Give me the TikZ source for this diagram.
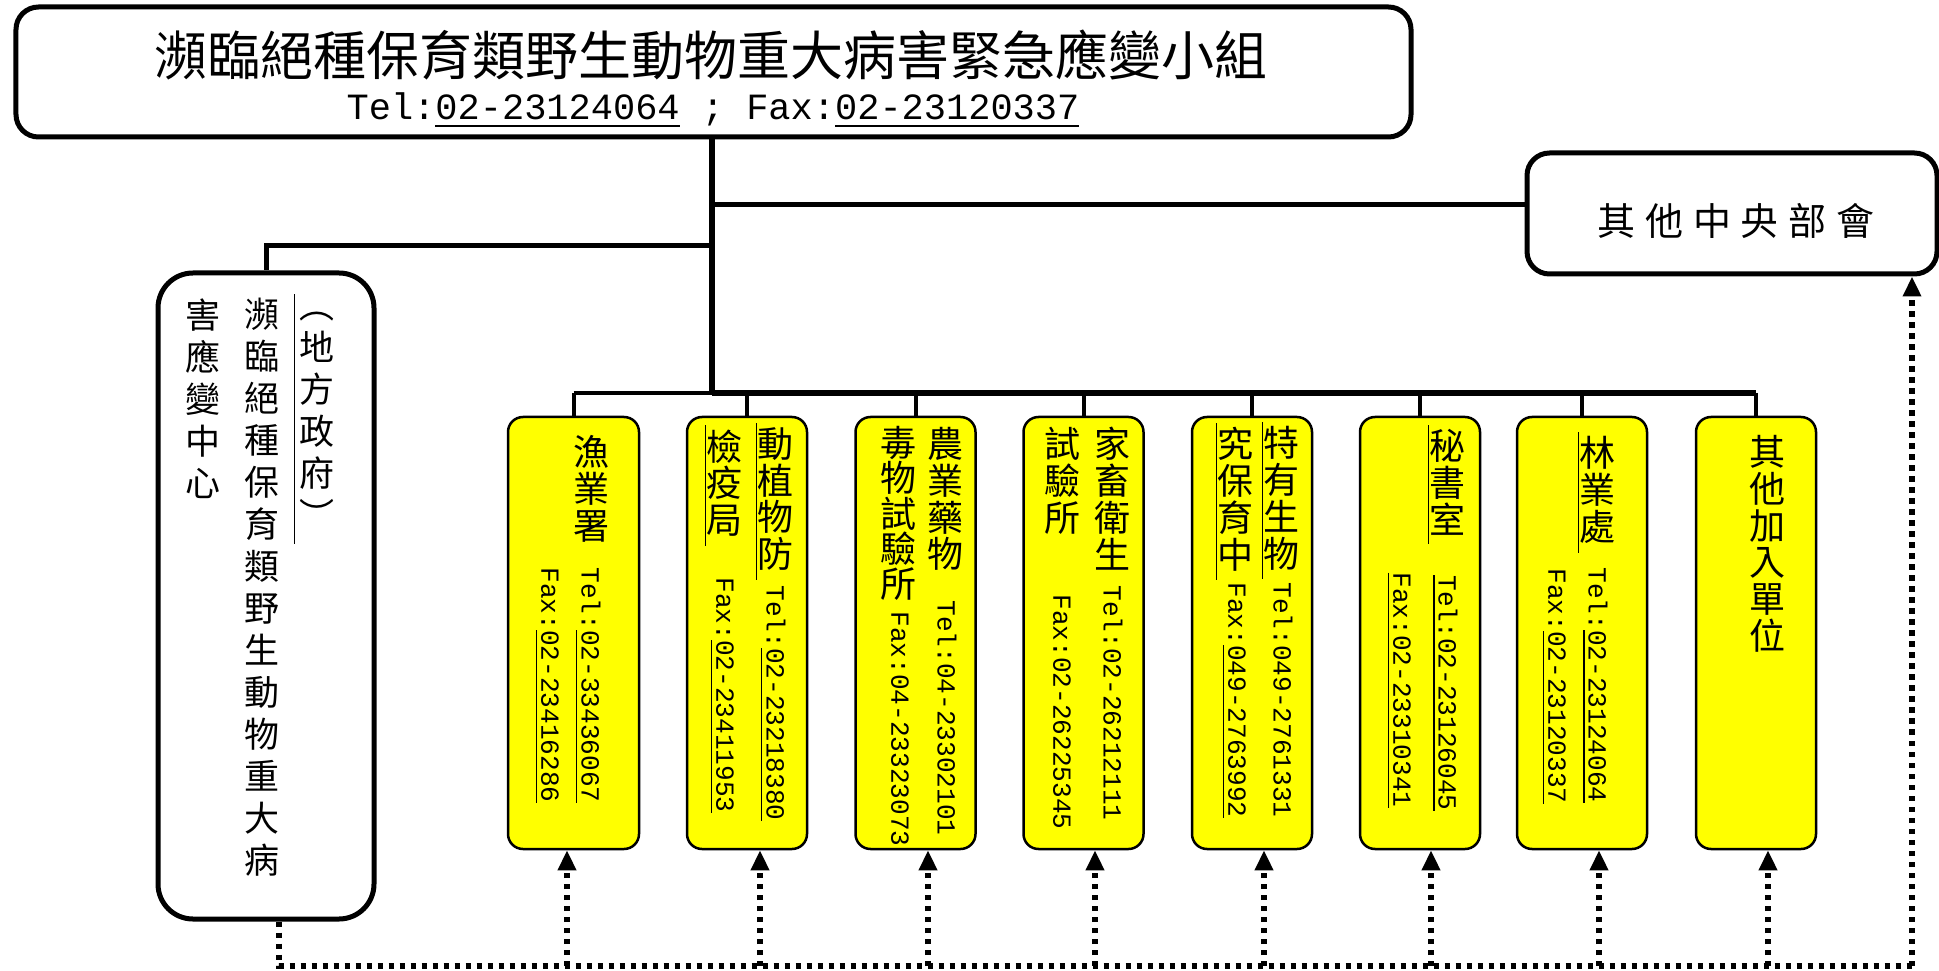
\documentclass[tikz,border=0pt]{standalone}
\usepackage{fontspec}
\usepackage{tikz}
\usetikzlibrary{calc,arrows.meta}
\setmonofont{Liberation Mono}
\newfontfamily\cjk{Noto Sans CJK TC}
\newfontfamily\cjkwide[LetterSpace=26]{Noto Sans CJK TC}
\definecolor{unitfill}{RGB}{255,255,0}
\newcommand{\ybfont}{\cjk\fontsize{14.4pt}{14.7pt}\selectfont\lineskiplimit=-5pt\relax}
\newcommand{\ybtight}{\cjk\fontsize{14.4pt}{14.1pt}\selectfont\lineskiplimit=-5pt\relax}
\newcommand{\ynumfont}{\ttfamily\fontsize{10.45pt}{12pt}\selectfont}
\newcommand{\lcfont}{\cjk\fontsize{14pt}{16.8pt}\selectfont}
\newcommand{\ulnum}[1]{\setbox0=\hbox{#1}\rlap{\smash{\rule[-0.22em]{\wd0}{0.06em}}}\box0\relax}
\tikzset{
  bigbox/.style={draw, line width=2pt, fill=white, rounded corners=9pt},
  ybox/.style={draw, line width=1pt, fill=unitfill, rounded corners=6pt, minimum width=48pt, minimum height=172.8pt},
  trunk/.style={line width=2.6pt},
  branch/.style={line width=2pt},
  thinbus/.style={line width=1.4pt},
  drop/.style={line width=1.6pt},
  dots/.style={line width=2.2pt, dash pattern=on 2.2pt off 2.2pt},
  dotarrow/.style={dots, -{Triangle[length=8pt,width=7pt]}},
  uline/.style={line width=0.55pt},
  vname/.style={anchor=north, align=center, inner sep=0pt, font=\ybfont},
  vnum/.style={anchor=west, rotate=-90, inner sep=0pt, font=\ynumfont},
  lcol/.style={anchor=north, align=center, inner sep=0pt, font=\lcfont},
}

\begin{document}
\begin{tikzpicture}[x=0.4pt,y=-0.4pt]
  \useasboundingbox (0,0) rectangle (1939,971);

  \node[bigbox, minimum width=558pt, minimum height=52pt] (top) at (713.5,72) {};
  \node[bigbox, minimum width=164pt, minimum height=48.4pt] (rc) at (1732,213.5) {};
  \node[bigbox, rounded corners=14pt, minimum width=86.4pt, minimum height=258.4pt] (lc) at (266,596) {};

  \node[ybox, minimum width=52.4pt] (b1) at (573.5,633) {};
  \node[ybox] (b2) at (747,633) {};
  \node[ybox] (b3) at (915.5,633) {};
  \node[ybox] (b4) at (1083.5,633) {};
  \node[ybox] (b5) at (1252,633) {};
  \node[ybox] (b6) at (1420,633) {};
  \node[ybox, minimum width=52pt] (b7) at (1582,633) {};
  \node[ybox] (b8) at (1756,633) {};

  \coordinate (hub) at (712,393);
  \coordinate (rj) at (712,205);
  \coordinate (lj) at (712,246);
  \coordinate (dl) at (279,966);
  \coordinate (dr) at (1912,966);

  \draw[trunk] (top.south -| hub) -- (hub);
  \draw[branch] (rj) -- (rj -| rc.west);
  \draw[branch] (lj) -| (lc.north);
  \draw[thinbus] (b1.north |- hub) -- (hub);
  \draw[trunk] (hub) -- (b8.north |- hub);
  \foreach \b in {b1,b2,b3,b4,b5,b6,b7,b8}
    \draw[drop] (\b.north |- hub) -- (\b.north);

  \draw[dots] (dl |- lc.south) -- (dl) -- (dr);
  \draw[dotarrow] (dr) -- (dr |- rc.south);
  \foreach \b/\x in {b1/567,b2/760,b3/928,b4/1095,b5/1264,b6/1431,b7/1599,b8/1768}{
    \coordinate (f\b) at (\x,966);
    \draw[dotarrow] (f\b) -- (f\b |- \b.south);
  }

  \node[font=\cjk\fontsize{21.2pt}{24pt}\selectfont, inner sep=0pt] (ttl) at (711,55) {瀕臨絕種保育類野生動物重大病害緊急應變小組};
  \node[font=\ttfamily\fontsize{14.8pt}{18pt}\selectfont, inner sep=0pt] (ttel) at (713,109) {Tel:\ulnum{02-23124064} ; Fax:\ulnum{02-23120337}};
  \node[font=\cjkwide\fontsize{15.2pt}{18pt}\selectfont, inner sep=0pt] (rct) at (1736,221) {其他中央部會};

  \node[lcol] (lc1) at (317,312) {︵\\地\\方\\政\\府\\︶};
  \node[lcol] (lc2) at (262,298) {瀕\\臨\\絕\\種\\保\\育\\類\\野\\生\\動\\物\\重\\大\\病};
  \node[lcol] (lc3) at (203,298) {害\\應\\變\\中\\心};
  \draw[uline] ([shift={(-1.8pt,7pt)}]lc1.north west) -- ([shift={(-1.8pt,-6pt)}]lc1.south west);

  \node[vname] (n1a) at (591,435) {漁\\業\\署};
  \node[vnum] (t1) at (591,567) {Tel:\ulnum{02-33436067}};
  \node[vnum] (x1) at (550,567) {Fax:\ulnum{02-23416286}};

  \node[vname] (n2a) at (775,427) {動\\植\\物\\防};
  \node[vnum] (t2) at (776,585) {Tel:\ulnum{02-23218380}};
  \node[vname] (n2b) at (724,429) {檢\\疫\\局};
  \node[vnum] (x2) at (725,577) {Fax:\ulnum{02-23411953}};

  \node[vname] (n3a) at (945,427) {農\\業\\藥\\物};
  \node[vnum] (t3) at (947,600) {Tel:04-23302101};
  \node[vname, font=\ybtight] (n3b) at (898,426) {毒\\物\\試\\驗\\所};
  \node[vnum] (x3) at (900,611) {Fax:04-23323073};

  \node[vname] (n4a) at (1112,427) {家\\畜\\衛\\生};
  \node[vnum] (t4) at (1113,585) {Tel:02-26212111};
  \node[vname] (n4b) at (1062,427) {試\\驗\\所};
  \node[vnum] (x4) at (1062,594) {Fax:02-26225345};

  \node[vname] (n5a) at (1281,426) {特\\有\\生\\物};
  \node[vnum] (t5) at (1283,582) {Tel:049-2761331};
  \node[vname] (n5b) at (1235,427) {究\\保\\育\\中};
  \node[vnum] (x5) at (1237,582) {Fax:\ulnum{049-2763992}};

  \node[vname] (n6a) at (1447,429) {秘\\書\\室};
  \node[vnum] (t6) at (1448,575) {\ulnum{Tel:02-23126045}};
  \node[vnum] (x6) at (1402,572) {\ulnum{Fax:02-23310341}};

  \node[vname] (n7a) at (1597,436) {林\\業\\處};
  \node[vnum] (t7) at (1598,567) {Tel:\ulnum{02-23124064}};
  \node[vnum] (x7) at (1557,568) {Fax:\ulnum{02-23120337}};

  \node[vname] (n8a) at (1767,435) {其\\他\\加\\入\\單\\位};

  \foreach \n in {n2a,n2b,n5a,n5b,n6a,n7a}
    \draw[uline] ([yshift=1.4pt]\n.north west) -- ([yshift=-3.5pt]\n.south west);
\end{tikzpicture}
\end{document}
